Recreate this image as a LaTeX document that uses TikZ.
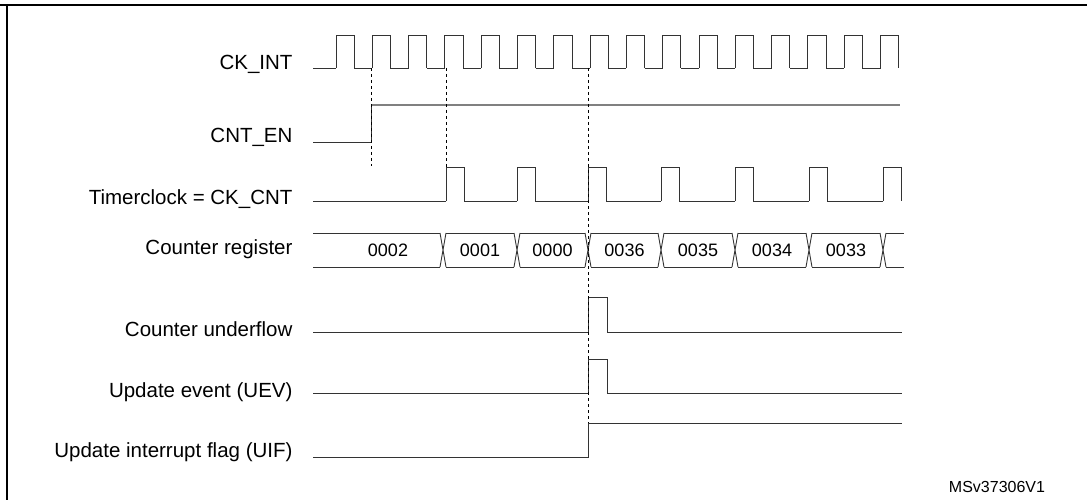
\documentclass[tikz,border=0pt]{standalone}
\usepackage{fontspec}
\setmainfont{Liberation Sans}
\begin{document}
\begin{tikzpicture}[x=1pt,y=-1pt,
    signame/.style={anchor=east,font=\fontsize{20.5}{24}\selectfont},
    busval/.style={font=\fontsize{18}{20}\selectfont},
    wave/.style={line width=0.9pt,color=black!80},
    marker/.style={dashed,line width=0.6pt}]
    \useasboundingbox (0,0) rectangle (1087,500);
    % Frame
    \draw[line width=1.5pt] (7,5) -- (7,500);
    \draw[line width=2.2pt] (0,5) -- (1087,5);

    % Signal names
    \node[signame] (ckint) at (296,64) {CK\_INT};
    \node[signame] (cnten) at (296,137) {CNT\_EN};
    \node[signame] (tclk) at (296,199) {Timerclock = CK\_CNT};
    \node[signame] (cntreg) at (296,249) {Counter register};
    \node[signame] (udf) at (296,329) {Counter underflow};
    \node[signame] (uev) at (296,392) {Update event (UEV)};
    \node[signame] (uif) at (296,452) {Update interrupt flag (UIF)};

    % CK_INT
    \draw[wave] (313,68) -- (336,68);
    \foreach \k in {0,...,15}
    {
      \draw[wave] ({336+36.3*\k},68) -- ++(0,-33) -- ++(18.15,0) -- ++(0,33);
    };
    \foreach \k in {0,...,14}
    {
      \draw[wave] ({354.15+36.3*\k},68) -- ++(18.15,0);
    };

    % CNT_EN
    \draw[wave] (313,142) -- (371,142) -- (371,105);
    \draw[wave,gray,line width=1.2pt] (371,105) -- (900,105);

    % Timerclock
    \draw[wave] (313,201) -- (446,201);
    \foreach \t in {446,517,588,661,735,809,883}
    {
      \draw[wave] (\t,201) -- (\t,167) -- ({\t+18},167) -- ({\t+18},201);
    };
    \foreach \a/\b in {464/517,535/588,606/661,679/735,753/809,827/883}
    {
      \draw[wave] (\a,201) -- (\b,201);
    };

    % Counter register
    \draw[wave] (313,233) -- (440,233) (313,267) -- (440,267);
    \foreach \t in {443,517,588,661,735,809,883}
    {
      \draw[wave] ({\t-3},233) -- ({\t+3},267) ({\t-3},267) -- ({\t+3},233);
    };
    \foreach \a/\b in {443/517,517/588,588/661,661/735,735/809,809/883}
    {
      \draw[wave] ({\a+3},233) -- ({\b-3},233) ({\a+3},267) -- ({\b-3},267);
    };
    \draw[wave] (886,233) -- (904,233) (886,267) -- (904,267);
    \foreach \x/\v in {388/0002,480/0001,552.5/0000,624.5/0036,698/0035,772/0034,846/0033}
    {
      \node[busval] at (\x,250) {\v};
    };

    % Counter underflow and update event
    \draw[wave] (313,332) -- (588,332) -- (588,297) -- (607,297) -- (607,332) -- (902,332);
    \draw[wave] (313,393) -- (588,393) -- (588,359) -- (607,359) -- (607,393) -- (902,393);

    % UIF
    \draw[wave] (313,457) -- (588,457) -- (588,423) -- (902,423);

    % Markers
    \draw[marker] (371,68) -- (371,166);
    \draw[marker] (446,68) -- (446,167);
    \draw[marker] (588,68) -- (588,423);

    \node[font=\fontsize{16}{18}\selectfont] (ref) at (997,487) {MSv37306V1};
\end{tikzpicture}
\end{document}
